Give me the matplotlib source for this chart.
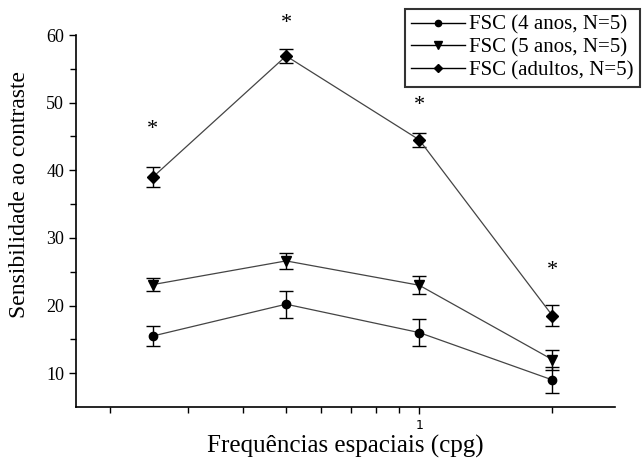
import matplotlib
matplotlib.use("Agg")
import matplotlib.pyplot as plt
from matplotlib.ticker import FixedLocator, NullFormatter, FixedFormatter

plt.rcParams["font.family"] = ["Liberation Serif", "DejaVu Serif"]

# data
freqs = [0.25, 0.5, 1.0, 2.0]
fsc_4 = [15.5, 20.2, 16.0, 9.0]
fsc_4_err = [1.5, 2.0, 2.0, 1.9]
fsc_5 = [23.1, 26.6, 23.0, 12.0]
fsc_5_err = [1.0, 1.2, 1.3, 1.5]
fsc_ad = [39.0, 56.9, 44.5, 18.5]
fsc_ad_err = [1.5, 1.0, 1.0, 1.55]
star_y = [46.8, 62.5, 50.3, 25.9]
labels = ["FSC (4 anos, N=5)", "FSC (5 anos, N=5)", "FSC (adultos, N=5)"]

fig = plt.figure(figsize=(6.42, 4.59), dpi=100)
W, H = 642, 459
ax = fig.add_axes([76 / W, (H - 407) / H, (615 - 76) / W, (407 - 35) / H])

series = [
    (fsc_4, fsc_4_err, "o", 6),
    (fsc_5, fsc_5_err, "v", 7),
    (fsc_ad, fsc_ad_err, "D", 6),
]
handles = []
for (y, e, m, ms), lab in zip(series, labels):
    ax.errorbar(freqs, y, yerr=e, fmt="none", ecolor="black", elinewidth=1.0,
                capsize=4.7, capthick=1.0, zorder=2)
    ax.plot(freqs, y, color="#444444", lw=0.9, zorder=3)
    ax.plot(freqs, y, ls="none", marker=m, ms=ms, color="black", zorder=4)
    h, = ax.plot([], [], color="black", lw=1.0, marker=m, ms=ms * 0.75, label=lab)
    handles.append(h)

# significance asterisks (glyph sits high in its box, so shift the baseline down)
for x, y in zip(freqs, star_y):
    ax.annotate("*", (x, y), xytext=(0, -7), textcoords="offset points",
                ha="center", va="baseline", fontsize=16, annotation_clip=False)

ax.set_xscale("log")
ax.set_xlim(0.1675, 2.77)
ax.set_ylim(5, 60)
ax.xaxis.set_major_locator(FixedLocator([1]))
ax.xaxis.set_major_formatter(FixedFormatter(["1"]))
ax.xaxis.set_minor_locator(FixedLocator([0.2, 0.3, 0.4, 0.5, 0.6, 0.7, 0.8, 0.9, 2]))
ax.xaxis.set_minor_formatter(NullFormatter())
ax.set_yticks([10, 20, 30, 40, 50, 60])
ax.yaxis.set_minor_locator(FixedLocator([15, 25, 35, 45, 55]))

for s in ["top", "right"]:
    ax.spines[s].set_visible(False)
ax.spines["left"].set_linewidth(1.2)
ax.spines["bottom"].set_linewidth(1.2)
ax.tick_params(axis="both", which="major", direction="out", length=5, width=1)
ax.tick_params(axis="both", which="minor", direction="out", length=4, width=1)
ax.tick_params(axis="y", labelsize=13)
for t in ax.get_xticklabels():
    t.set_fontfamily("DejaVu Sans")
    t.set_fontsize(9)

ax.set_xlabel("Frequências espaciais (cpg)", fontsize=18, labelpad=2)
ax.set_ylabel("Sensibilidade ao contraste", fontsize=17)
ax.yaxis.set_label_coords(-0.085, 0.57)

leg = ax.legend(handles=handles, loc="upper right", bbox_to_anchor=(640 / W, 1 - 9 / H),
                bbox_transform=fig.transFigure, fontsize=15, frameon=True,
                fancybox=False, edgecolor="black", handlelength=2.6,
                handletextpad=0.2, borderpad=0.3, labelspacing=0.15, borderaxespad=0)
leg.get_frame().set_linewidth(1.5)

fig.savefig("out.png", dpi=100)
